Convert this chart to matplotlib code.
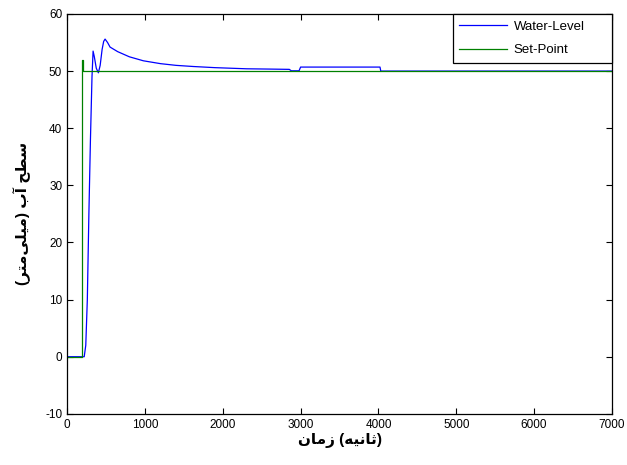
import numpy as np
import matplotlib
matplotlib.use('Agg')
import matplotlib.pyplot as plt

plt.rcParams['font.family'] = ['Liberation Sans', 'DejaVu Sans']
plt.rcParams['axes.unicode_minus'] = False

# water level response
t_level = [0, 220, 240, 260, 280, 300, 320, 334, 350, 375, 402, 425, 450, 470, 488,
           520, 552, 650, 800, 980, 1200, 1400, 1622, 1900, 2306, 2600, 2855, 2880,
           2980, 3000, 4020, 4030, 7000]
level = [0, 0, 2, 10, 25, 38, 49, 53.5, 52.5, 50.5, 49.7, 51.0, 53.8, 55.2, 55.6,
         55.0, 54.2, 53.4, 52.5, 51.8, 51.3, 51.0, 50.8, 50.6, 50.4, 50.35, 50.3, 50.05,
         50.05, 50.7, 50.7, 50.0, 50.0]

# set point
t_set = [0, 195, 195, 205, 205, 7000]
setpoint = [0, 0, 52, 52, 50, 50]

xticks = [0, 1000, 2000, 3000, 4000, 5000, 6000, 7000]
yticks = [-10, 0, 10, 20, 30, 40, 50, 60]

# pre-shaped persian labels (visual order)
xlabel = '\uFEE5\uFE8E\uFEE3\uFEAF (\uFEEA\uFEF4\uFEE7\uFE8E\uFE9B)'
ylabel = ('(' + '\uFEAE\uFE98\uFEE3' + '\uFEF0\uFEE0\uFEF4\uFEE3' + ') '
          + '\uFE8F\uFE81' + ' ' + '\uFEA2\uFEC4\uFEB3')

fig = plt.figure(figsize=(6.27, 4.65), dpi=100)
fig.patch.set_facecolor('white')
ax = fig.add_axes([0.107, 0.110, 0.869, 0.860])

ax.plot(t_level, level, color=(0, 0, 1), lw=0.9, label='Water-Level')
ax.plot(t_set, setpoint, color=(0, 0.5, 0), lw=0.9, label='Set-Point')

ax.set_xlim(0, 7000)
ax.set_ylim(-10, 60)
ax.set_xticks(xticks)
ax.set_yticks(yticks)
ax.tick_params(direction='in', top=True, right=True, labelsize=8.5, length=4, width=0.8)
for s in ax.spines.values():
    s.set_linewidth(0.9)

ax.set_xlabel(xlabel, fontsize=11, fontweight='bold', labelpad=2)
ax.set_ylabel(ylabel, fontsize=11, fontweight='bold', labelpad=10)

leg = ax.legend(loc='upper left', bbox_to_anchor=(0.708, 0.0, 0.292, 1.0), mode='expand',
                fontsize=9.5, fancybox=False, borderaxespad=0, edgecolor='black',
                framealpha=1, handlelength=3.6, handletextpad=0.5, borderpad=0.5,
                labelspacing=0.85)
leg.get_frame().set_linewidth(0.9)

fig.savefig('out.png', dpi=100)
